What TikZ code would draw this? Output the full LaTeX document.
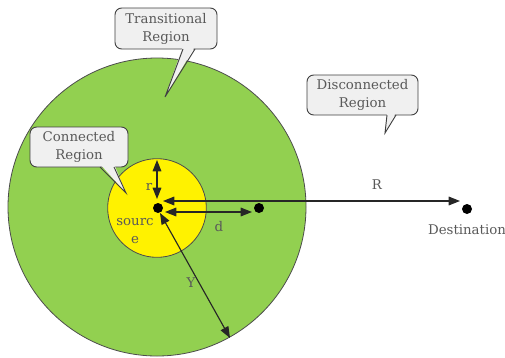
\documentclass[tikz,border=0pt]{standalone}
\usepackage{fontspec}
\setmainfont{DejaVu Serif}
\usetikzlibrary{arrows.meta}
\definecolor{regiongreen}{RGB}{146,208,80}
\definecolor{calloutfill}{RGB}{240,240,240}
\begin{document}
\begin{tikzpicture}[x=0.75pt,y=-0.75pt,
  txt/.style={text=black!65, font=\fontsize{10}{13}\selectfont, inner sep=0pt},
  callbox/.style={draw=black!75, line width=0.7pt, fill=calloutfill, rounded corners=5pt,
    text=black!65, font=\fontsize{10}{13.5}\selectfont, align=center, inner sep=0pt},
  callline/.style={draw=black!75, line width=0.7pt, line join=miter},
  arr/.style={{Triangle[length=8.5pt,width=6.5pt]}-{Triangle[length=8.5pt,width=6.5pt]}, line width=0.85pt, draw=black!85},
  dot/.style={circle, fill=black, minimum size=7.5pt, inner sep=0pt}]
\useasboundingbox (0,0) rectangle (505,357);
\fill[white] (0,0) rectangle (505,357);
% regions
\node[circle, draw=black!70, line width=0.6pt, fill=regiongreen, minimum size=223.5pt, inner sep=0pt] (green) at (157,207) {};
\node[circle, draw=black!70, line width=0.6pt, fill=yellow, minimum size=74pt, inner sep=0pt] (yel) at (157,208) {};
% callouts
\node[callbox, minimum width=76.5pt, minimum height=30.75pt] (trans) at (166,28.5) {Transitional\\Region};
\fill[calloutfill] (183,46) -- (165,97) -- (195,46) -- cycle;
\draw[callline] (183,49) -- (165,97) -- (195,49);
\node[callbox, minimum width=83.25pt, minimum height=30pt] (disc) at (362.5,95) {Disconnected\\Region};
\fill[calloutfill] (387,112) -- (385,133) -- (396,112) -- cycle;
\draw[callline] (387,115) -- (385,133) -- (396,115);
\node[callbox, minimum width=73.5pt, minimum height=30pt] (conn) at (79,147) {Connected\\Region};
\fill[calloutfill] (100,164) -- (126,193) -- (114,164) -- cycle;
\draw[callline] (100,167) -- (126,193) -- (114,167);
% points
\node[dot] (src) at (158,208) {};
\node[dot] (dpt) at (259,208) {};
\node[dot] (dest) at (467,209) {};
% arrow end coordinates
\coordinate (rtop) at (157,160);
\coordinate (rbot) at (157,199);
\coordinate (Rl) at (163,201);
\coordinate (Rr) at (460,201);
\coordinate (dl) at (165,212);
\coordinate (dr) at (252,212);
\coordinate (Yt) at (160,213);
\coordinate (Yb) at (230,338);
\draw[arr] (rtop) -- (rbot);
\draw[arr] (Rl) -- (Rr);
\draw[arr] (dl) -- (dr);
\draw[arr] (Yt) -- (Yb);
% labels
\node[txt] (lr) at (149,187) {r};
\node[txt] (ld) at (219,227) {d};
\node[txt] (lR) at (377,185) {R};
\node[txt] (lY) at (191,283) {Y};
\node[txt, align=center] (lsrc) at (135,231) {sourc\\e};
\node[txt] (ldest) at (467,230) {Destination};
\end{tikzpicture}
\end{document}
